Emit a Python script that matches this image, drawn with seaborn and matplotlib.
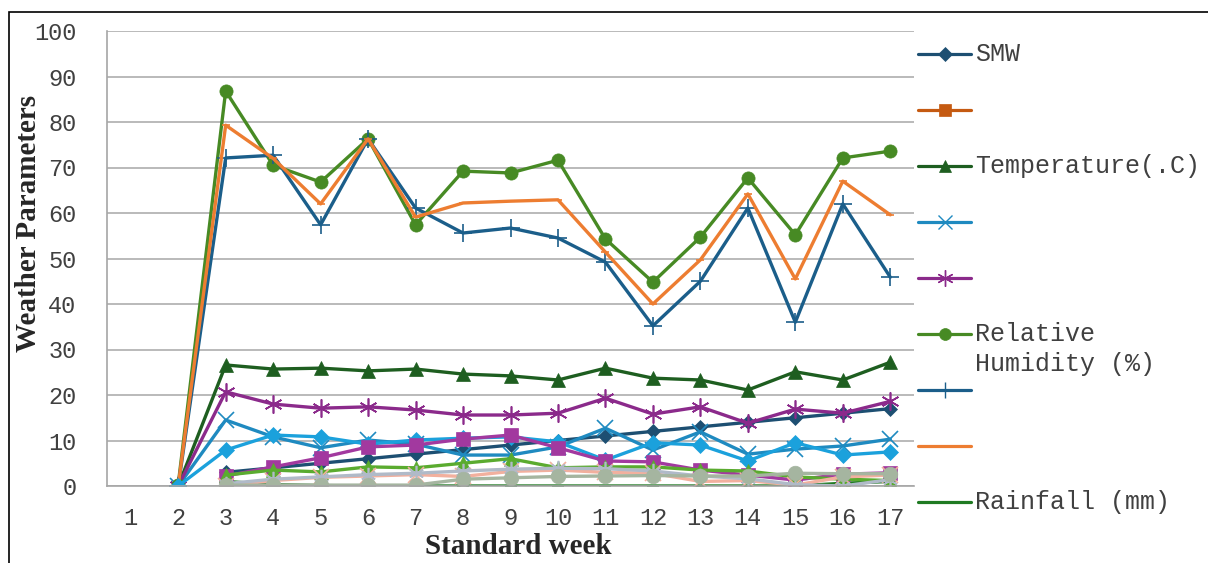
import numpy as np
import seaborn as sns
import matplotlib.pyplot as plt
from matplotlib.lines import Line2D
from matplotlib.patches import Rectangle
from matplotlib.ticker import FixedLocator, MultipleLocator

nan = np.nan
weeks = list(range(1, 18))

# series in Excel order (1..15)
smw = [nan, nan, 3, 4, 5, 6, 7, 8, 9, 10, 11, 12, 13, 14, 15, 16, 17]
series2 = [nan] * 17
temperature = [nan, 0, 26.6, 25.7, 25.9, 25.3, 25.7, 24.6, 24.2, 23.3, 25.9, 23.7, 23.3, 21.1, 25.1, 23.3, 27.2]
series4 = [nan, 0, 14.5, 10.8, 8.4, 10.1, 9.2, 6.8, 6.8, 8.6, 12.7, 7.9, 11.9, 7.0, 8.1, 8.8, 10.3]
series5 = [nan, 0, 20.7, 18.0, 17.1, 17.4, 16.7, 15.6, 15.6, 16.0, 19.3, 15.8, 17.4, 13.8, 16.9, 16.0, 18.6]
humidity = [nan, 0.3, 86.8, 70.5, 66.8, 76.3, 57.4, 69.2, 68.8, 71.6, 54.3, 44.8, 54.7, 67.7, 55.2, 72.1, 73.6]
series7 = [nan, 0, 72.1, 72.7, 57.4, 76.3, 61.1, 55.6, 56.7, 54.5, 49.2, 35.2, 45.0, 61.1, 36.0, 62.0, 45.9]
series8 = [nan, 0, 79.3, 72.0, 62.0, 76.3, 59.1, 62.2, 62.6, 62.9, 51.4, 40.0, 49.7, 64.2, 45.5, 67.0, 59.6]
rainfall = [nan, nan, 1.0, 0.3, 0.1, 0, 0, 0, 0, 0, 0, 0, 0, 0, 0, 0.6, 1.0]
series10 = [nan, 0, 7.9, 11.2, 10.8, 9.2, 10.1, 10.5, 10.8, 9.7, 5.7, 9.5, 9.0, 5.5, 9.5, 6.8, 7.5]
series11 = [nan, nan, 2.2, 4.2, 6.2, 8.6, 9.0, 10.3, 11.2, 8.4, 5.5, 5.3, 3.5, 2.4, 1.3, 2.6, 2.9]
series12 = [nan, nan, 2.4, 3.5, 3.1, 4.2, 4.0, 5.0, 6.0, 4.0, 4.2, 4.2, 3.5, 3.3, 2.0, 1.5, 1.2]
series13 = [nan, nan, 0, 1.2, 1.9, 2.2, 2.5, 2.1, 3.2, 3.5, 3.0, 2.8, 1.0, 1.2, 0.2, 2.0, 2.4]
series14 = [nan, nan, 0.5, 1.5, 2.0, 2.5, 2.8, 3.3, 3.7, 3.9, 3.8, 3.3, 2.2, 1.6, 0.3, 0.0, 1.4]
series15 = [nan, nan, 0.2, 0.2, 0.2, 0.2, 0.2, 1.5, 1.8, 2.1, 2.2, 2.3, 2.2, 2.2, 2.8, 2.7, 2.7]

ASTER = (6, 2, 0)
styles = [
    ("SMW", smw, "#1d4f72", "D", 7.5),
    ("", series2, "#c55a11", "s", 9),
    ("Temperature(.C)", temperature, "#1e5e20", "^", 9.5),
    ("", series4, "#1f8ac0", "x", 11),
    ("", series5, "#8b2a8b", ASTER, 13),
    ("Relative\nHumidity (%)", humidity, "#478a24", "o", 9.5),
    ("", series7, "#1b5e8a", "+", 13),
    ("", series8, "#ed7d31", "_", 6),
    ("Rainfall (mm)", rainfall, "#1f7a22", "_", 8),
    (None, series10, "#1ba1dc", "D", 8.5),
    (None, series11, "#a2399f", "s", 10),
    (None, series12, "#5aab2f", "^", 9.5),
    (None, series13, "#f2b09e", "x", 11),
    (None, series14, "#b0bac8", ASTER, 11),
    (None, series15, "#a5b5a0", "o", 10.5),
]

sns.set_style("white")
plt.rcParams["font.family"] = ["Liberation Mono", "DejaVu Sans Mono"]

fig = plt.figure(figsize=(12.08, 5.63), dpi=100)
ax = fig.add_axes([107 / 1208, 77 / 563, 807 / 1208, 455 / 563])

for label, vals, color, marker, ms in styles:
    if np.all(np.isnan(vals)):
        continue
    thin = marker in ("x", "+", ASTER, "_")
    sns.lineplot(x=weeks, y=vals, ax=ax, color=color, marker=marker,
                 markersize=ms, linewidth=2.4, markeredgecolor=color,
                 markeredgewidth=1.2 if thin else 0.5, legend=False)

ax.set_xlim(0.5, 17.5)
ax.set_ylim(0, 100)
ax.yaxis.set_major_locator(MultipleLocator(10))
ax.xaxis.set_major_locator(FixedLocator(weeks))
ax.xaxis.set_minor_locator(FixedLocator([w + 0.5 for w in range(0, 18)]))
ax.grid(axis="y", color="#b4b4b4", linewidth=1.3)
ax.set_axisbelow(True)
for side in ["top", "right"]:
    ax.spines[side].set_visible(False)
ax.spines["left"].set_color("#a6a6a6")
ax.spines["bottom"].set_color("#a6a6a6")
ax.spines["left"].set_linewidth(1.2)
ax.spines["bottom"].set_linewidth(1.2)
ax.tick_params(axis="x", which="major", length=0, pad=15, labelsize=17, labelcolor="#404040")
ax.tick_params(axis="x", which="minor", length=6, color="#a6a6a6", width=1.2, direction="out")
ax.tick_params(axis="y", length=6, color="#a6a6a6", width=1.2, pad=16, labelsize=17, labelcolor="#404040")

ax.set_xlabel("Standard week", fontfamily="Liberation Serif", fontweight="bold", fontsize=21)
ax.set_ylabel("Weather Parameters", fontfamily="Liberation Serif", fontweight="bold", fontsize=21)
ax.xaxis.set_label_coords(0.51, -0.104)
ax.yaxis.set_label_coords(-0.080, 0.578)

# legend (Excel shows only the first nine entries)
for i, (label, vals, color, marker, ms) in enumerate(styles[:9]):
    fy = 1 - (54 + i * 56) / 563
    x0, x1 = 918 / 1208, 971 / 1208
    thin = marker in ("x", "+", ASTER, "_")
    h = Line2D([x0, (x0 + x1) / 2, x1], [fy, fy, fy], transform=fig.transFigure,
               color=color, linewidth=2.3, marker=marker, markevery=[1],
               markersize=ms * 0.9, markeredgecolor=color,
               markeredgewidth=1.0 if thin else 0.5)
    fig.add_artist(h)
    for k, line in enumerate(label.split("\n")):
        fig.text(975 / 1208, fy - k * 30 / 563, line, va="center", ha="left",
                 fontsize=18, color="#404040")

fig.add_artist(Rectangle((9 / 1208, -0.1), 1.2, 1.1 - 12 / 563, transform=fig.transFigure,
                         fill=False, edgecolor="black", linewidth=1.2))

fig.savefig("out.png", dpi=100)
